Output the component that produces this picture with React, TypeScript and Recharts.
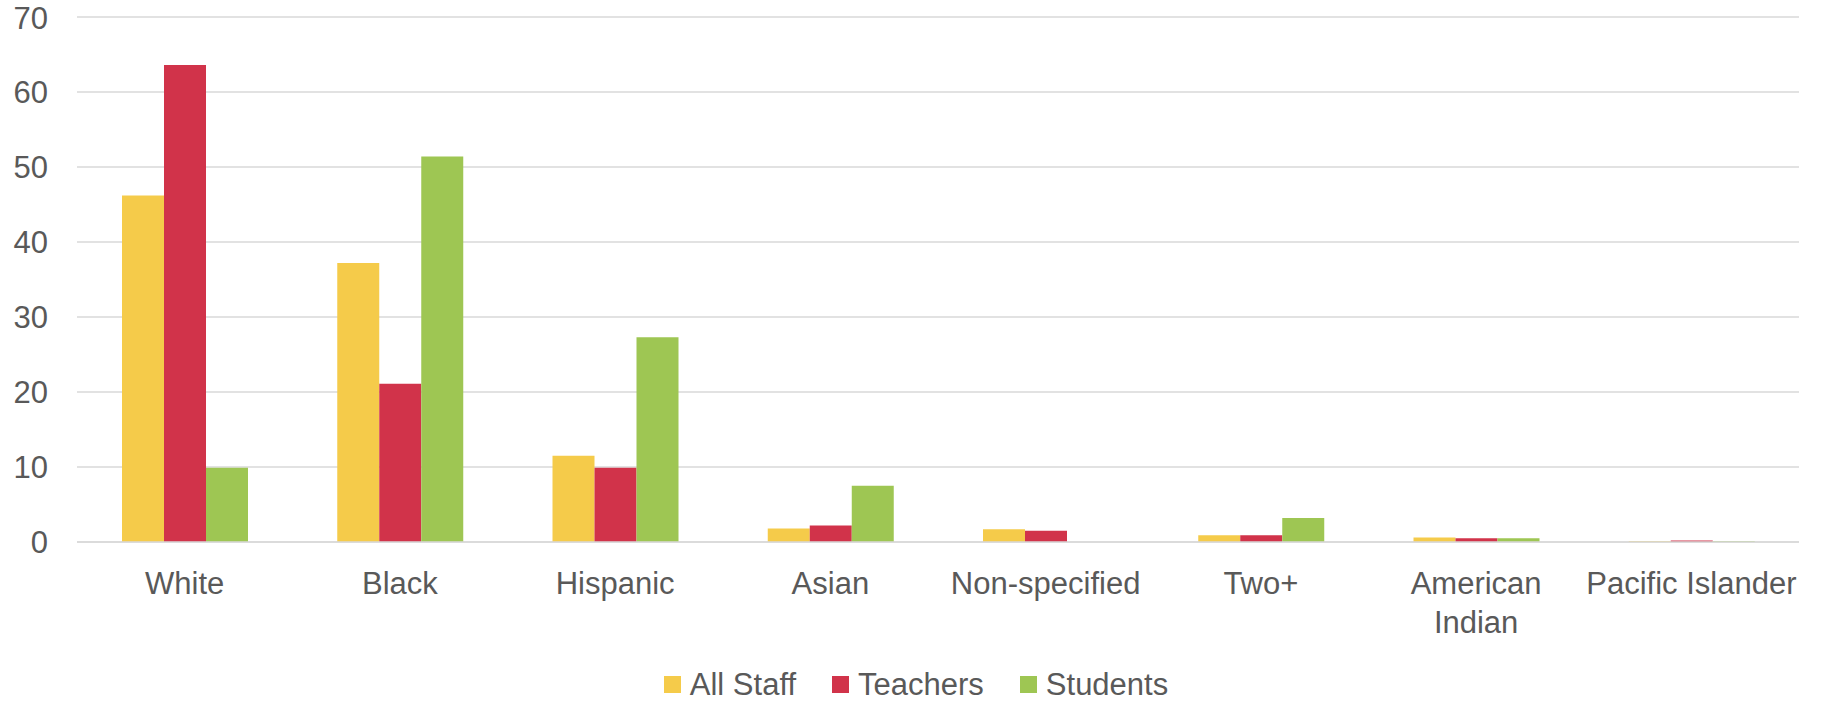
import { BarChart, Bar, XAxis, YAxis, CartesianGrid, Legend } from "recharts";

const groups = [
  "White",
  "Black",
  "Hispanic",
  "Asian",
  "Non-specified",
  "Two+",
  "American Indian",
  "Pacific Islander",
];

const allStaff = [46.2, 37.2, 11.5, 1.8, 1.7, 0.9, 0.6, 0.1];
const teachers = [63.6, 21.1, 9.9, 2.2, 1.5, 0.9, 0.5, 0.2];
const students = [9.9, 51.4, 27.3, 7.5, 0, 3.2, 0.5, 0.1];

const yTicks = [0, 10, 20, 30, 40, 50, 60, 70];

const seriesList = [
  { key: "allStaff", name: "All Staff", color: "#F5CB4A" },
  { key: "teachers", name: "Teachers", color: "#D1334A" },
  { key: "students", name: "Students", color: "#9EC653" },
];

const data = groups.map((g, i) => ({
  group: g,
  allStaff: allStaff[i],
  teachers: teachers[i],
  students: students[i],
}));

const FONT = '"Liberation Sans", Arial, sans-serif';
const TEXT = "#595959";
const GRID = "#D9D9D9";

let ctx: CanvasRenderingContext2D | null = null;
const textWidth = (s: string) => {
  if (!ctx) {
    ctx = document.createElement("canvas").getContext("2d");
    if (ctx) ctx.font = `31px ${FONT}`;
  }
  return ctx ? ctx.measureText(s).width : s.length * 16;
};

// wrap a label into lines no wider than the band
const wrapLabel = (label: string, max: number) => {
  const words = label.split(" ");
  const lines: string[] = [];
  let cur = "";
  words.forEach((w) => {
    const next = cur ? cur + " " + w : w;
    if (cur && textWidth(next) > max) {
      lines.push(cur);
      cur = w;
    } else {
      cur = next;
    }
  });
  if (cur) lines.push(cur);
  return lines;
};

const CategoryTick = (props: any) => {
  const { x, y, payload } = props;
  const lines = wrapLabel(payload.value, 215);
  return (
    <text x={x} y={y} textAnchor="middle" fill={TEXT} fontSize={31} fontFamily={FONT}>
      {lines.map((l, i) => (
        <tspan key={i} x={x} dy={i === 0 ? "0.71em" : 38.5}>
          {l}
        </tspan>
      ))}
    </text>
  );
};

const LegendContent = () => (
  <div
    style={{
      display: "flex",
      justifyContent: "center",
      alignItems: "center",
      height: 40,
      paddingLeft: 10,
      fontFamily: FONT,
      fontSize: 31,
      color: TEXT,
    }}
  >
    {seriesList.map((s, i) => (
      <span
        key={s.key}
        style={{ display: "flex", alignItems: "center", marginLeft: i === 0 ? 0 : 36, lineHeight: 1 }}
      >
        <span style={{ width: 17, height: 17, background: s.color, marginRight: 9, display: "inline-block" }} />
        {s.name}
      </span>
    ))}
  </div>
);

export default function App() {
  return (
    <div style={{ position: "absolute", left: 0, top: 0, background: "#fff" }}>
      <BarChart
        width={1822}
        height={701}
        data={data}
        margin={{ top: 17, right: 23, bottom: 0, left: 0 }}
        barCategoryGap={45}
        barGap={0}
      >
        <CartesianGrid vertical={false} stroke={GRID} strokeWidth={1.5} />
        <XAxis
          dataKey="group"
          height={119}
          interval={0}
          axisLine={{ stroke: GRID, strokeWidth: 1.5 }}
          tickLine={false}
          tickSize={0}
          tickMargin={30}
          tick={<CategoryTick />}
        />
        <YAxis
          type="number"
          domain={[0, 70]}
          ticks={yTicks}
          width={77}
          axisLine={false}
          tickLine={false}
          tickSize={0}
          tickMargin={29}
          tick={{ fill: TEXT, fontSize: 31, fontFamily: FONT }}
        />
        <Legend
          verticalAlign="bottom"
          width={1822}
          height={40}
          wrapperStyle={{ left: 0, top: 664 }}
          content={<LegendContent />}
        />
        {seriesList.map((s) => (
          <Bar key={s.key} dataKey={s.key} name={s.name} fill={s.color} isAnimationActive={false} />
        ))}
      </BarChart>
    </div>
  );
}
